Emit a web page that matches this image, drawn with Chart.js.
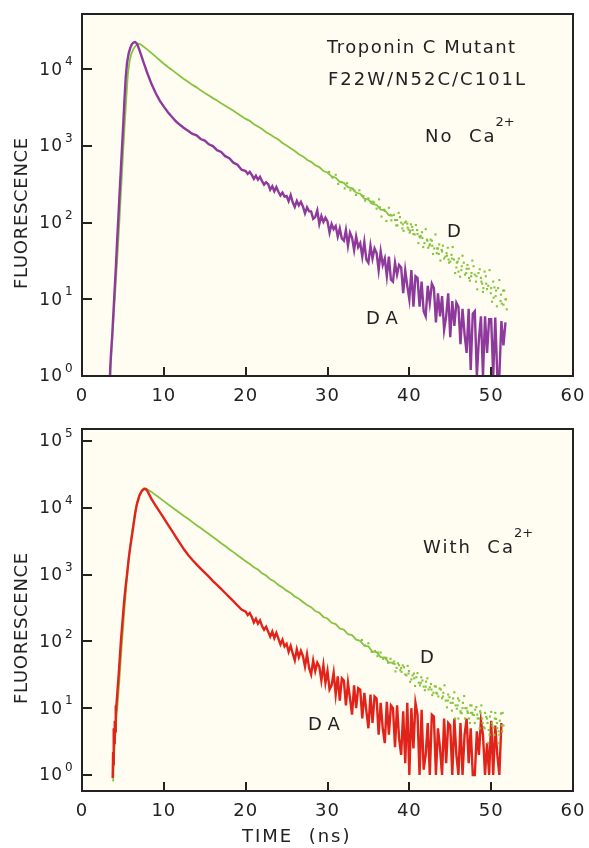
<!DOCTYPE html>
<html>
<head>
<meta charset="utf-8">
<script src="https://cdn.jsdelivr.net/npm/chart.js@4.4.0/dist/chart.umd.min.js"></script>
<style>
  html, body { margin: 0; padding: 0; background: #fff; }
  #wrap { position: relative; width: 589px; height: 848px; }
  .panel { position: absolute; left: 0; width: 589px; }
  #p1 { top: 0; height: 420px; }
  #p2 { top: 420px; height: 428px; }
</style>
</head>
<body>
<div id="wrap">
  <div class="panel" id="p1"><canvas id="c1"></canvas></div>
  <div class="panel" id="p2"><canvas id="c2"></canvas></div>
</div>
<script>
// ---- data (time in ns, fluorescence counts) ----
const xTicks = [0, 10, 20, 30, 40, 50, 60];
const topDecades = [1, 10, 100, 1000, 10000];
const botDecades = [1, 10, 100, 1000, 10000, 100000];
const tailStep = 0.25;

// top panel, no Ca2+ : DA (purple)
const topDaT = [3.35,3.45,3.55,3.7,3.85,4.0,4.15,4.3,4.45,4.6,4.75,4.9,5.05,5.2,5.35,5.5,5.7,5.9,6.1,6.3,6.5,6.65,6.8,7.0,7.25,7.5,7.75,8.0,8.5,9.0,9.5,10,10.5,11,11.5,12,12.5,13,13.5,14,14.5,15,15.5,16,16.5,17,17.5,18,18.5,19,19.5];
const topDaV = [0.5,1.3,2,3.5,7,14,28,60,120,250,500,1000,2000,4200,8000,12000,16000,19000,21200,22300,22600,22000,20500,18000,15000,12500,10500,8800,6400,4900,3900,3250,2750,2380,2080,1870,1700,1560,1430,1370,1230,1175,1050,995,880,835,735,690,605,570,490];
const topDaTailStart = 20;
const topDaTail = [
  470,432,458,418, 372,410,362,395, 348,312,336,318, 268,298,256,290,
  252,226,246,218, 222,190,228,184, 160,192,168,186, 162,132,158,140,
  140,112,118,144, 96,122,102,116, 104,74,96,82, 90,66,84,62,
  58,80,50,74, 64,44,66,48, 54,36,56,33, 30,50,34,46,
  40,24,42,28, 34,20,36,18, 17,30,21,28, 26,12,24,15,
  10,24,8,20, 19,8,17,7, 6,15,9,16, 14,5,12,6,
  11,4,6,12, 3.2,9.5,4.5,9, 8,2.6,7.5,3.5, 2,7.5,1.2,6.5,
  7,1,3,6, 1,6,2,5.5, 5.5,1,5.8,1, 1,5.2,2.5,5
];

// top panel : D (green)
const topDT = [3.4,3.6,3.8,4.0,4.2,4.4,4.6,4.8,5.0,5.2,5.4,5.6,5.8,6.0,6.3,6.6,6.9,7.1,7.5,8,8.5,9,9.5,10,10.5,11,11.5,12,12.5,13,13.5,14,14.5,15,15.5,16,16.5,17,17.5,18,18.5,19,19.5,20,20.5,21,21.5,22,22.5,23,23.5,24,24.5,25,25.5,26,26.5,27,27.5,28,28.5,29,29.5,30,30.5,31,31.5,32,32.5,33,33.5,34,34.5,35,35.5,36,36.5,37,37.5,38];
const topDV = [0.8,2,4.5,10,22,50,120,300,750,1800,4000,8500,12500,15500,18500,20500,21500,21300,19800,18000,16200,14600,13100,11800,10700,9800,8900,8100,7400,6800,6250,5800,5300,4900,4550,4200,3900,3600,3350,3100,2870,2650,2440,2250,2120,1920,1790,1660,1510,1410,1300,1210,1090,1010,930,860,780,730,660,620,560,530,470,450,400,385,340,330,290,280,245,238,205,200,175,170,148,145,125,122];
const topDotT = [
  30.2,30.6,31.0,31.3,31.7,32.1,32.4,32.8,33.1,33.5,33.9,34.2,34.6,35.0,35.3,35.7,36.0,36.3,36.6,36.9,37.2,37.5,37.8,38.1,38.4,38.7,39.0,39.3,39.6,39.9,40.2,40.5,40.8,41.1,41.4,41.7,42.0,42.3,42.6,42.9,43.2,43.5,43.8,44.1,44.4,44.7,45.0,45.3,45.6,45.9,46.2,46.5,46.8,47.1,47.4,47.7,48.0,48.3,48.6,48.9,49.2,49.5,49.8,50.1,50.4,50.7,51.0,51.3,51.6,51.9,
  33.3,34.4,35.5,36.4,37.0,37.7,38.5,39.2,39.8,40.4,41.0,41.6,42.2,42.8,43.4,44.0,44.6,45.2,45.8,46.4,47.0,47.6,48.2,48.8,49.4,50.0,50.6,51.2,51.8,49.0,50.3,51.5,47.3,46.0,44.8,43.6,42.5,41.3,40.1,
  38.25,38.55,38.85,39.15,39.45,39.75,40.05,40.35,40.65,40.95,41.25,41.55,41.85,42.15,42.45,42.75,43.05,43.35,43.65,43.95,44.25,44.55,44.85,45.15,45.45,45.75,46.05,46.35,46.65,46.95,47.25,47.55,47.85,48.15,48.45,48.75,49.05,49.35,49.65,49.95,50.25,50.55,50.85,51.15,51.45,51.75];
const topDotV = [
  458,386,420,320,339,279,327,264,275,229,264,225,193,207,182,183,152,201,120,147,105,156,107,126,92,134,100,78,103,81,95,71,93,54,67,48,82,47,60,39,70,46,32,50,36,47,31,48,22,31,19.7,37,21,28,17.5,32,21,13.5,24.7,16,23,13.6,24,9.3,14.3,8.1,17.8,8.8,13,7.4,
  262,222,188,158,142,125,108,95,86,80,71,63,58,50,46,42,37,34,30,27,25,22,20,17,16,14,13,11.5,10,12.5,10.5,8.5,19,23,33,39,52,64,78,
  108,92,118,84,100,97,74,88,70,80,66,75,54,60,50,58,46,40,52,44,34,40,30,38,33,26,34,24,30,22,25,20,27,17,22,19,14,20,15,12,17,11,14,9.5,13,10];

// bottom panel, with Ca2+ : DA (red)
const botDaT = [3.75,3.8,3.85,3.9,3.95,4.0,4.05,4.1,4.15,4.3,4.45,4.6,4.75,4.95,5.15,5.35,5.5,5.7,5.9,6.1,6.3,6.5,6.7,7.0,7.3,7.6,7.8,8.0,8.5,9,9.5,10,10.5,11,11.5,12,12.5,13,13.5,14,14.5,15,15.5,16,16.5,17,17.5,18,18.5,19,19.5];
const botDaV = [0.9,2.2,1.4,5,3,6.5,4.5,11,8,16,28,52,100,200,400,700,1000,1700,2600,3800,5600,8300,11200,15000,17800,19200,19000,17800,13500,10800,8700,7000,5600,4500,3600,2900,2350,1950,1650,1420,1230,1070,930,800,700,610,530,460,400,345,300];
const botDaTailStart = 20;
const botDaTail = [
  278,248,266,232, 192,218,184,206, 170,150,166,140, 118,140,112,134,
  110,90,106,84, 92,70,86,66, 52,76,58,72, 60,42,64,40,
  32,52,36,48, 42,26,44,24, 36,19,22,34, 16,30,13,28,
  26,11,24,14, 8,22,10,20, 19,7,17,9, 5,16,6,15,
  14,4,12,5, 3,12.5,4,11, 10,2.6,11,3.5, 2,9,1.5,12,
  1,10,2.5,12, 8,1,9.5,1.2, 2,6,1,8, 7.5,1,5,2.5,
  1,7,1.5,6, 5.5,1,7,2, 1,6,1,4, 7,1.5,5,1,
  1,4.5,2,6.5, 4,1,3,1, 6.5,1,5.5,2, 1,6
];

// bottom panel : D (green)
const botDT = [3.8,4.0,4.2,4.4,4.6,4.8,5.0,5.2,5.4,5.6,5.8,6.0,6.2,6.4,6.6,6.8,7.1,7.4,7.7,7.9,8.5,9,9.5,10,10.5,11,11.5,12,12.5,13,13.5,14,14.5,15,15.5,16,16.5,17,17.5,18,18.5,19,19.5,20,20.5,21,21.5,22,22.5,23,23.5,24,24.5,25,25.5,26,26.5,27,27.5,28,28.5,29,29.5,30,30.5,31,31.5,32,32.5,33,33.5,34,34.5,35,35.5,36,36.5,37,37.5,38];
const botDV = [0.8,3,7,14,30,70,150,320,650,1250,2200,3400,5000,7200,10000,13000,16500,18800,19500,19300,17300,15500,14000,12600,11300,10200,9200,8300,7500,6800,6100,5500,5000,4500,4050,3650,3300,2950,2680,2400,2170,1950,1760,1580,1440,1290,1190,1050,970,850,790,700,640,575,530,470,435,390,350,325,285,268,232,220,190,182,156,150,128,124,106,102,86,84,70,69,58,57,48,48];
const botDotT = [
  34.2,34.6,35.0,35.4,35.8,36.1,36.5,36.8,37.1,37.4,37.7,38.0,38.3,38.6,38.9,39.2,39.5,39.8,40.1,40.4,40.7,41.0,41.3,41.6,41.9,42.2,42.5,42.8,43.1,43.4,43.7,44.0,44.3,44.6,44.9,45.2,45.5,45.8,46.1,46.4,46.7,47.0,47.3,47.6,47.9,48.2,48.5,48.8,49.1,49.4,49.7,50.0,50.3,50.6,50.9,51.2,51.5,
  36.2,37.2,38.2,39.0,39.9,40.6,41.4,42.0,42.7,43.3,44.1,44.7,45.3,45.9,46.5,47.1,47.7,48.3,48.9,49.5,50.1,50.7,51.3,
  45.6,46.0,46.8,47.4,48.0,48.6,49.2,49.8,50.4,51.0,46.3,47.5,48.7,50.5,51.4,49.6,50.9,
  38.15,38.45,38.75,39.05,39.35,39.65,39.95,40.25,40.55,40.85,41.15,41.45,41.75,42.05,42.35,42.65,42.95,43.25,43.55,43.85,44.15,44.45,44.75,45.05,45.35,45.65,45.95,46.25,46.55,46.85,47.15,47.45,47.75,48.05,48.35,48.65,48.95,49.25,49.55,49.85,50.15,50.45,50.75,51.05,51.35];
const botDotV = [
  105,87,94,69.5,71.9,60,68,54.7,57,48,55,47,35.5,47,37,43.7,32,43,24.8,30.9,21.5,33.5,22,26,18.6,28,20.5,15.7,21.3,16.5,19.7,14.1,22,10.3,14.6,9.2,17.3,9.8,13,8.4,15.2,10,7,11,7.9,10.4,7,11,5.2,7.4,4.7,8.8,5.1,6.9,4.5,8.3,5.5,
  68,56,46,40,33,28,24,21,19,17,15,13,12,11,10,9,8.5,8,7,7,6,6,5.5,
  7,7,7,6,6,5,5,4,4,4,8.5,8.5,8.5,8.5,8.5,3,3,
  50,40,44,35,41,31,36,27,33,29,24,29,21,25,19,23,17,21,15,19,17,13,16,12,14,11,14,9,12,10,8.5,11,8,9.5,7,9,6,8.5,6,7.5,5.5,7,5,6.5,4.5];

// ---- styling ----
const cream = '#fffdf2';
const ink = '#222222';
const green = '#86c43f';
const purple = '#8e3a9d';
const red = '#e2231a';
const fontFam = '"DejaVu Sans", sans-serif';

function pts(ts, vs) { return ts.map((t, i) => ({ x: t, y: vs[i] })); }
function tail(start, vs) { return vs.map((v, i) => ({ x: start + i * tailStep, y: v })); }

function spaced(ctx, str, x, y, spacing, align) {
  ctx.letterSpacing = spacing + 'px';
  ctx.textAlign = align;
  ctx.fillText(str, x, y);
  ctx.letterSpacing = '0px';
}

function withSup(ctx, base, sup, x, y) {
  ctx.font = '18px ' + fontFam;
  ctx.textAlign = 'left';
  ctx.letterSpacing = '2px';
  ctx.fillText(base, x, y);
  const w = ctx.measureText(base).width;
  ctx.font = '13px ' + fontFam;
  ctx.letterSpacing = '0px';
  ctx.fillText(sup, x + w - 1, y - 14);
}

const framePlugin = {
  id: 'frame',
  beforeDraw(chart) {
    const a = chart.chartArea, ctx = chart.ctx;
    ctx.save();
    ctx.fillStyle = cream;
    ctx.fillRect(a.left, a.top, a.right - a.left, a.bottom - a.top);
    ctx.restore();
  },
  afterDraw(chart) {
    const a = chart.chartArea, ctx = chart.ctx;
    const o = chart.options.plugins.frame;
    const xs = chart.scales.x, ys = chart.scales.y;
    ctx.save();
    ctx.strokeStyle = ink;
    ctx.lineWidth = 2;
    ctx.strokeRect(a.left, a.top, a.right - a.left, a.bottom - a.top);
    // inward ticks
    ctx.beginPath();
    xTicks.forEach(v => {
      const px = Math.round(xs.getPixelForValue(v));
      if (px > a.left + 2 && px < a.right - 2) { ctx.moveTo(px, a.bottom); ctx.lineTo(px, a.bottom - 9); }
    });
    o.decades.forEach(v => {
      const py = Math.round(ys.getPixelForValue(v));
      if (py > a.top + 2 && py < a.bottom - 2) { ctx.moveTo(a.left, py); ctx.lineTo(a.left + 10, py); }
    });
    ctx.stroke();

    ctx.fillStyle = ink;
    ctx.textBaseline = 'middle';
    // x tick labels
    ctx.font = '18px ' + fontFam;
    xTicks.forEach(v => {
      spaced(ctx, String(v), xs.getPixelForValue(v), a.bottom + 20, 1, 'center');
    });
    // y tick labels 10^n
    o.decades.forEach(v => {
      const py = ys.getPixelForValue(v);
      ctx.font = '17px ' + fontFam;
      spaced(ctx, '10', 63, py + 1, 1, 'right');
      ctx.font = '12px ' + fontFam;
      spaced(ctx, String(Math.round(Math.log10(v))), 65, py - 7, 0, 'left');
    });
    // y title
    ctx.save();
    ctx.translate(22, o.yTitleY);
    ctx.rotate(-Math.PI / 2);
    ctx.font = '18px ' + fontFam;
    spaced(ctx, 'FLUORESCENCE', 0, 0, 0.7, 'center');
    ctx.restore();
    // annotations
    o.notes.forEach(n => {
      if (n.sup) {
        withSup(ctx, n.text, n.sup, n.x, n.y);
      } else {
        ctx.font = '18px ' + fontFam;
        spaced(ctx, n.text, n.x, n.y, n.sp || 0, n.align || 'left');
      }
    });
    ctx.restore();
  }
};

function makeChart(id, cfg) {
  return new Chart(document.getElementById(id), {
    type: 'line',
    data: { datasets: cfg.datasets },
    options: {
      responsive: true,
      maintainAspectRatio: false,
      animation: false,
      events: [],
      layout: { padding: { top: cfg.padTop, right: 16, left: 0, bottom: 0 } },
      elements: { point: { radius: 0 }, line: { tension: 0 } },
      scales: {
        x: {
          type: 'linear', min: 0, max: 60,
          ticks: { display: false, stepSize: 10 },
          grid: { display: false }, border: { display: false },
          afterFit: s => { s.height = cfg.xH; }
        },
        y: {
          type: 'logarithmic', min: cfg.yMin, max: cfg.yMax,
          ticks: { display: false },
          grid: { display: false }, border: { display: false },
          afterFit: s => { s.width = 82; }
        }
      },
      plugins: {
        legend: { display: false },
        tooltip: { enabled: false },
        frame: { decades: cfg.decades, yTitleY: cfg.yTitleY, notes: cfg.notes }
      }
    },
    plugins: [framePlugin]
  });
}

function dots(ts, vs) {
  return { data: pts(ts, vs), showLine: false, pointRadius: 1.5, pointStyle: 'rect',
           pointBackgroundColor: green, pointBorderWidth: 0, borderColor: green };
}
function line(data, color, w) {
  return { data: data, borderColor: color, borderWidth: w, pointRadius: 0, fill: false };
}

makeChart('c1', {
  padTop: 14, xH: 44, yMin: 1, yMax: Math.pow(10, 4.72),
  decades: topDecades, yTitleY: 213,
  datasets: [
    dots(topDotT, topDotV),
    line(pts(topDaT, topDaV).concat(tail(topDaTailStart, topDaTail)), purple, 2.4),
    line(pts(topDT, topDV), green, 1.8)
  ],
  notes: [
    { text: 'Troponin C Mutant', x: 327, y: 48, sp: 1.5 },
    { text: 'F22W/N52C/C101L', x: 328, y: 80, sp: 2 },
    { text: 'No  Ca', sup: '2+', x: 425, y: 137 },
    { text: 'D', x: 454, y: 232, align: 'center' },
    { text: 'DA', x: 366, y: 319, sp: 6 }
  ]
});

makeChart('c2', {
  padTop: 9, xH: 57, yMin: Math.pow(10, -0.24), yMax: Math.pow(10, 5.18),
  decades: botDecades, yTitleY: 208,
  datasets: [
    dots(botDotT, botDotV),
    line(pts(botDaT, botDaV).concat(tail(botDaTailStart, botDaTail)), red, 2.4),
    line(pts(botDT, botDV), green, 1.8)
  ],
  notes: [
    { text: 'With  Ca', sup: '2+', x: 423, y: 128 },
    { text: 'D', x: 427, y: 238, align: 'center' },
    { text: 'DA', x: 308, y: 305, sp: 6 },
    { text: 'TIME  (ns)', x: 242, y: 417, sp: 2 }
  ]
});
</script>
</body>
</html>
